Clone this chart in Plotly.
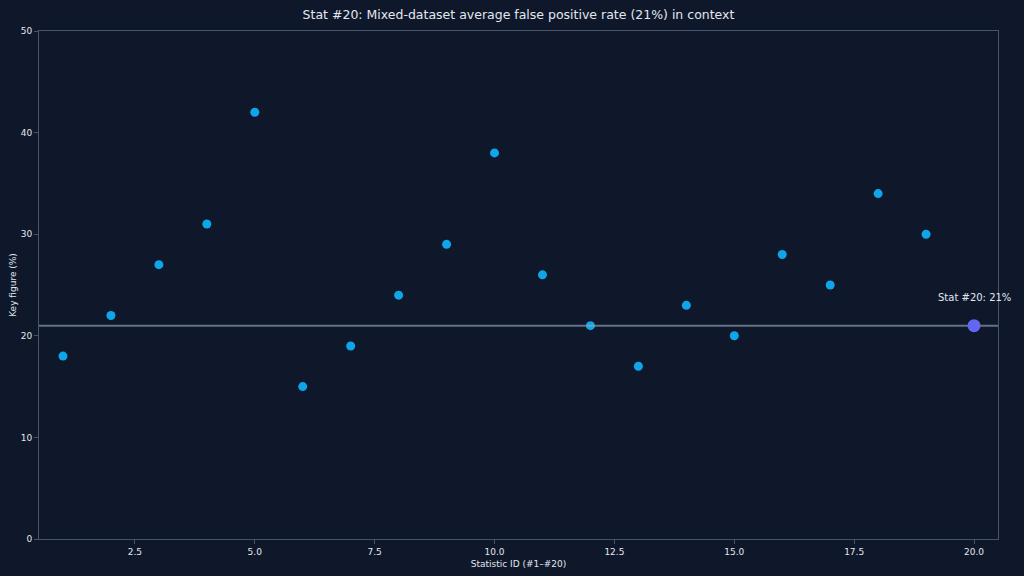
import plotly.graph_objects as go

stat_ids = list(range(1, 21))
key_figures = [18, 22, 27, 31, 42, 15, 19, 24, 29, 38, 26, 21, 17, 23, 20, 28, 25, 34, 30, 21]
highlight_id = 20
highlight_value = 21
ref_value = 21
x_ticks = [2.5, 5.0, 7.5, 10.0, 12.5, 15.0, 17.5, 20.0]
y_ticks = [0, 10, 20, 30, 40, 50]

bg = "#0f172a"
text_c = "#e2e8f0"
axis_c = "#475569"

fig = go.Figure()
fig.add_trace(go.Scatter(
    x=stat_ids[:-1], y=key_figures[:-1], mode="markers",
    marker=dict(color="#0ea5e9", size=9), showlegend=False))
fig.add_trace(go.Scatter(
    x=[0.5, 20.5], y=[ref_value, ref_value], mode="lines",
    line=dict(color="rgba(148,163,184,0.65)", width=2), hoverinfo="skip", showlegend=False))
fig.add_trace(go.Scatter(
    x=[highlight_id], y=[highlight_value], mode="markers",
    marker=dict(color="#6366f1", size=13), showlegend=False))

fig.add_annotation(x=highlight_id, y=highlight_value, text="Stat #20: 21%",
                   showarrow=False, yshift=28, xshift=0,
                   font=dict(color=text_c, size=10))

fig.update_layout(
    width=1024, height=576,
    paper_bgcolor=bg, plot_bgcolor=bg,
    font=dict(family="DejaVu Sans", color=text_c, size=10),
    margin=dict(l=39, r=26, t=31, b=37, autoexpand=False),
    title=dict(text="Stat #20: Mixed-dataset average false positive rate (21%) in context",
               xref="paper", x=0.5, xanchor="center", y=0.974, yanchor="middle",
               font=dict(size=12.5, color=text_c)),
)
fig.update_xaxes(range=[0.5, 20.5], tickvals=x_ticks,
                 ticktext=[f"{v:.1f}" for v in x_ticks],
                 showgrid=False, zeroline=False, showline=True, mirror=True,
                 linecolor=axis_c, linewidth=1, ticks="outside", ticklen=4,
                 tickcolor=axis_c, tickfont=dict(size=9, color=text_c), automargin=False,
                 title=dict(text="Statistic ID (#1–#20)", font=dict(size=9, color=text_c), standoff=4))
fig.update_yaxes(range=[0, 50], tickvals=y_ticks,
                 showgrid=False, zeroline=False, showline=True, mirror=True,
                 linecolor=axis_c, linewidth=1, ticks="outside", ticklen=4,
                 tickcolor=axis_c, tickfont=dict(size=9, color=text_c), automargin=False,
                 title=dict(text="Key figure (%)", font=dict(size=9, color=text_c), standoff=2))

fig.write_html("out.html", config={"displayModeBar": False},
               post_script="document.body.style.margin='0';document.body.style.background='#0f172a';document.body.style.overflow='hidden';")
